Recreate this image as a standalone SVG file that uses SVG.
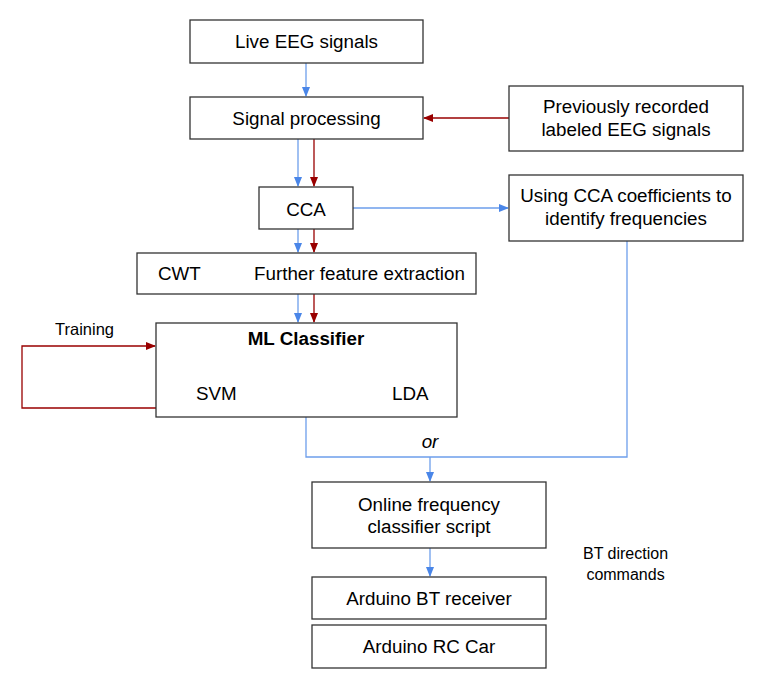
<svg xmlns="http://www.w3.org/2000/svg" width="771" height="680" viewBox="0 0 771 680">
<style>
.box{fill:#fff;stroke:#333;stroke-width:1.3}
.t{font-family:"Liberation Sans",Arial,sans-serif;font-size:18.8px;fill:#000}
.c{text-anchor:middle}
.s{font-family:"Liberation Sans",Arial,sans-serif;font-size:16px;fill:#000}
.b{fill:none;stroke:#6d9eeb;stroke-width:1.3}
.r{fill:none;stroke:#990000;stroke-width:1.3}
</style>
<defs>
<marker id="ab" markerWidth="10" markerHeight="10" refX="9" refY="5" orient="auto" markerUnits="userSpaceOnUse"><path d="M0,1 L10,5 L0,9 Z" fill="#4a86e8"/></marker>
<marker id="ar" markerWidth="10" markerHeight="10" refX="9" refY="5" orient="auto" markerUnits="userSpaceOnUse"><path d="M0,1 L10,5 L0,9 Z" fill="#990000"/></marker>
</defs>
<rect width="771" height="680" fill="#fff"/>
<g id="connectors">
<line class="b" x1="306" y1="63" x2="306" y2="96" marker-end="url(#ab)"/>
<line class="r" x1="509" y1="118" x2="424" y2="118" marker-end="url(#ar)"/>
<line class="b" x1="298" y1="139" x2="298" y2="186" marker-end="url(#ab)"/>
<line class="r" x1="314" y1="139" x2="314" y2="186" marker-end="url(#ar)"/>
<line class="b" x1="353" y1="208" x2="508" y2="208" marker-end="url(#ab)"/>
<line class="b" x1="298" y1="229" x2="298" y2="252" marker-end="url(#ab)"/>
<line class="r" x1="314" y1="229" x2="314" y2="252" marker-end="url(#ar)"/>
<line class="b" x1="298" y1="294" x2="298" y2="322" marker-end="url(#ab)"/>
<line class="r" x1="314" y1="294" x2="314" y2="322" marker-end="url(#ar)"/>
<polyline class="r" points="156,408 22,408 22,346 155,346" marker-end="url(#ar)"/>
<polyline class="b" points="306,417 306,457 627,457 627,241"/>
<line class="b" x1="430" y1="457" x2="430" y2="481" marker-end="url(#ab)"/>
<line class="b" x1="430" y1="548" x2="430" y2="576" marker-end="url(#ab)"/>
</g>
<g id="live-eeg"><rect class="box" x="190" y="20" width="233" height="43"/><text class="t c" x="306.5" y="48">Live EEG signals</text></g>
<g id="signal-processing"><rect class="box" x="190" y="97" width="233" height="42"/><text class="t c" x="306.5" y="125">Signal processing</text></g>
<g id="previously-recorded"><rect class="box" x="509" y="86" width="234" height="65"/><text class="t c" x="626" y="113">Previously recorded</text><text class="t c" x="626" y="136">labeled EEG signals</text></g>
<g id="cca"><rect class="box" x="259" y="187" width="94" height="42"/><text class="t c" x="306" y="216">CCA</text></g>
<g id="using-cca"><rect class="box" x="509" y="175" width="234" height="66"/><text class="t c" x="626" y="202">Using CCA coefficients to</text><text class="t c" x="626" y="225">identify frequencies</text></g>
<g id="cwt"><rect class="box" x="137" y="253" width="339" height="41"/><text class="t" x="158" y="280">CWT</text><text class="t" x="254" y="280">Further feature extraction</text></g>
<g id="ml-classifier"><rect class="box" x="156" y="323" width="301" height="94"/><text class="t c" x="306" y="345" font-weight="bold">ML Classifier</text><text class="t" x="196" y="400">SVM</text><text class="t" x="392" y="400">LDA</text></g>
<g id="training-label"><text class="s" x="55" y="335" style="font-size:16.5px">Training</text></g>
<g id="or-label"><text class="t c" x="430" y="448" font-style="italic">or</text></g>
<g id="online-classifier"><rect class="box" x="312" y="482" width="234" height="66"/><text class="t c" x="429" y="511">Online frequency</text><text class="t c" x="429" y="533">classifier script</text></g>
<g id="bt-label"><text class="s c" x="625.5" y="559">BT direction</text><text class="s c" x="625.5" y="580">commands</text></g>
<g id="bt-receiver"><rect class="box" x="312" y="577" width="234" height="42"/><text class="t c" x="429" y="605">Arduino BT receiver</text></g>
<g id="rc-car"><rect class="box" x="312" y="625" width="234" height="43"/><text class="t c" x="429" y="653">Arduino RC Car</text></g>
</svg>
